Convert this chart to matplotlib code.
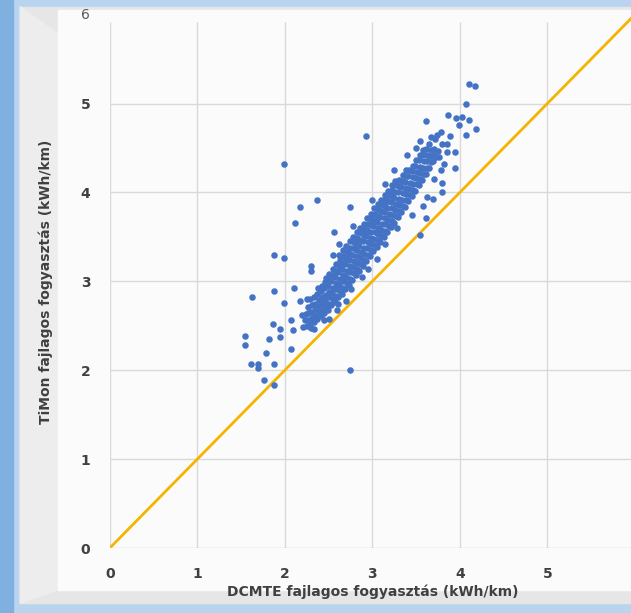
import matplotlib
matplotlib.use('Agg')
import matplotlib.pyplot as plt
from matplotlib.patches import Rectangle, Polygon

plt.rcParams['font.weight'] = 'bold'

# dense core of the cloud
core_x = [
 2.21, 2.23, 2.24,
 2.25, 2.27, 2.26, 2.27,
 2.29, 2.31, 2.30, 2.31, 2.29,
 2.33, 2.35, 2.34, 2.35, 2.33,
 2.37, 2.39, 2.38, 2.39, 2.37, 2.38,
 2.41, 2.43, 2.42, 2.43, 2.41, 2.42,
 2.45, 2.47, 2.46, 2.47, 2.45, 2.46, 2.47,
 2.49, 2.51, 2.50, 2.51, 2.49, 2.50, 2.51,
 2.53, 2.55, 2.54, 2.55, 2.53, 2.54, 2.55,
 2.57, 2.59, 2.58, 2.59, 2.57, 2.58, 2.59,
 2.61, 2.63, 2.62, 2.63, 2.61, 2.62, 2.63, 2.62,
 2.65, 2.67, 2.66, 2.67, 2.65, 2.66, 2.67, 2.66,
 2.69, 2.71, 2.70, 2.71, 2.69, 2.70, 2.71, 2.70,
 2.73, 2.75, 2.74, 2.75, 2.73, 2.74, 2.75, 2.74,
 2.77, 2.79, 2.78, 2.79, 2.77, 2.78, 2.79, 2.78,
 2.81, 2.83, 2.82, 2.83, 2.81, 2.82, 2.83, 2.82,
 2.85, 2.87, 2.86, 2.87, 2.85, 2.86, 2.87, 2.86,
 2.89, 2.91, 2.90, 2.91, 2.89, 2.90, 2.91, 2.90,
 2.93, 2.95, 2.94, 2.95, 2.93, 2.94, 2.95, 2.94,
 2.97, 2.99, 2.98, 2.99, 2.97, 2.98, 2.99, 2.98,
 3.01, 3.03, 3.02, 3.03, 3.01, 3.02, 3.03, 3.02,
 3.05, 3.07, 3.06, 3.07, 3.05, 3.06, 3.07, 3.06,
 3.09, 3.11, 3.10, 3.11, 3.09, 3.10, 3.11, 3.10,
 3.13, 3.15, 3.14, 3.15, 3.13, 3.14, 3.15, 3.14,
 3.17, 3.19, 3.18, 3.19, 3.17, 3.18, 3.19, 3.18,
 3.21, 3.23, 3.22, 3.23, 3.21, 3.22, 3.23, 3.22,
 3.25, 3.27, 3.26, 3.27, 3.25, 3.26, 3.27, 3.26,
 3.29, 3.31, 3.30, 3.31, 3.29, 3.30, 3.31,
 3.33, 3.35, 3.34, 3.35, 3.33, 3.34, 3.35,
 3.37, 3.39, 3.38, 3.39, 3.37, 3.38, 3.39,
 3.41, 3.43, 3.42, 3.43, 3.41, 3.42,
 3.45, 3.47, 3.46, 3.47, 3.45, 3.46,
 3.49, 3.51, 3.50, 3.51, 3.49, 3.50,
 3.53, 3.55, 3.54, 3.55, 3.53, 3.54,
 3.57, 3.59, 3.58, 3.59, 3.57, 3.58,
 3.61, 3.63, 3.62, 3.63, 3.61,
 3.65, 3.67, 3.66, 3.67, 3.65,
 3.69, 3.71, 3.70,
 3.73, 3.75,
]
core_y = [
 2.49, 2.56, 2.63,
 2.50, 2.57, 2.64, 2.71,
 2.52, 2.59, 2.66, 2.73, 2.80,
 2.54, 2.61, 2.68, 2.75, 2.82,
 2.58, 2.65, 2.72, 2.79, 2.86, 2.92,
 2.61, 2.68, 2.75, 2.82, 2.89, 2.95,
 2.64, 2.71, 2.78, 2.85, 2.92, 2.99, 3.04,
 2.68, 2.75, 2.82, 2.88, 2.95, 3.02, 3.08,
 2.73, 2.80, 2.87, 2.93, 3.00, 3.07, 3.14,
 2.77, 2.84, 2.91, 2.98, 3.05, 3.12, 3.19,
 2.82, 2.89, 2.96, 3.03, 3.10, 3.17, 3.24, 3.30,
 2.86, 2.93, 3.00, 3.07, 3.14, 3.21, 3.28, 3.35,
 2.91, 2.98, 3.05, 3.12, 3.19, 3.26, 3.33, 3.40,
 2.96, 3.03, 3.10, 3.17, 3.24, 3.31, 3.38, 3.45,
 3.02, 3.09, 3.16, 3.23, 3.30, 3.37, 3.44, 3.50,
 3.07, 3.14, 3.21, 3.28, 3.35, 3.42, 3.49, 3.55,
 3.12, 3.19, 3.26, 3.33, 3.40, 3.47, 3.54, 3.60,
 3.17, 3.24, 3.31, 3.38, 3.45, 3.52, 3.59, 3.65,
 3.23, 3.30, 3.37, 3.44, 3.51, 3.58, 3.65, 3.71,
 3.28, 3.35, 3.42, 3.49, 3.56, 3.63, 3.70, 3.76,
 3.34, 3.41, 3.48, 3.55, 3.62, 3.69, 3.76, 3.82,
 3.39, 3.46, 3.53, 3.60, 3.67, 3.74, 3.81, 3.87,
 3.44, 3.51, 3.58, 3.65, 3.72, 3.79, 3.86, 3.92,
 3.50, 3.57, 3.64, 3.71, 3.78, 3.85, 3.92, 3.97,
 3.55, 3.62, 3.69, 3.76, 3.83, 3.90, 3.97, 4.02,
 3.61, 3.68, 3.75, 3.82, 3.89, 3.96, 4.03, 4.08,
 3.66, 3.73, 3.80, 3.87, 3.94, 4.01, 4.08, 4.13,
 3.72, 3.79, 3.86, 3.93, 4.00, 4.07, 4.14,
 3.78, 3.85, 3.92, 3.99, 4.06, 4.13, 4.20,
 3.84, 3.91, 3.98, 4.05, 4.12, 4.19, 4.25,
 3.90, 3.97, 4.04, 4.11, 4.18, 4.25,
 3.96, 4.03, 4.10, 4.17, 4.24, 4.30,
 4.02, 4.09, 4.16, 4.23, 4.30, 4.36,
 4.08, 4.15, 4.22, 4.29, 4.36, 4.42,
 4.14, 4.21, 4.28, 4.35, 4.42, 4.48,
 4.21, 4.28, 4.35, 4.42, 4.49,
 4.27, 4.34, 4.41, 4.48, 4.55,
 4.35, 4.42, 4.49,
 4.40, 4.47,
]

# scattered points around the core
edge_x = [1.99, 2.93, 2.17, 2.37, 2.12, 2.56, 2.75, 1.88, 1.99, 1.63,
          1.88, 1.99, 2.11, 1.55, 1.55, 1.86, 1.95, 1.82, 1.94, 2.07,
          1.78, 1.61, 1.69, 1.69, 1.88, 1.76, 1.88, 2.75, 2.07, 2.09,
          2.17, 2.30, 2.30, 2.30, 3.55, 3.61, 3.69, 3.80, 3.94, 3.61,
          3.86, 4.07, 4.11, 4.17, 4.18, 4.07, 3.96, 4.03, 4.11, 3.99,
          3.94, 3.80, 3.89, 3.74, 3.67, 2.95, 2.76, 2.61, 2.33, 3.80,
          3.45, 3.62, 3.70, 3.78, 3.82, 3.76, 3.85, 3.58, 3.28, 3.15,
          3.05, 2.88, 2.70, 2.60, 2.50, 2.45, 2.55, 2.62, 2.78, 3.00,
          3.15, 3.25, 3.40, 3.50, 3.55, 3.85, 3.72, 3.78, 2.20, 2.25]
edge_y = [4.32, 4.63, 3.84, 3.91, 3.66, 3.56, 3.84, 3.30, 3.26, 2.82,
          2.89, 2.76, 2.93, 2.39, 2.28, 2.52, 2.46, 2.35, 2.37, 2.24,
          2.19, 2.07, 2.07, 2.02, 2.07, 1.89, 1.83, 2.00, 2.56, 2.45,
          2.78, 2.48, 3.17, 3.12, 3.52, 3.71, 3.93, 4.00, 4.28, 4.80,
          4.87, 5.00, 5.22, 5.20, 4.71, 4.65, 4.84, 4.85, 4.82, 4.76,
          4.45, 4.54, 4.63, 4.65, 4.62, 3.14, 2.91, 2.74, 2.46, 4.11,
          3.75, 3.95, 4.15, 4.25, 4.32, 4.40, 4.45, 3.85, 3.60, 3.42,
          3.25, 3.05, 2.78, 2.68, 2.58, 2.56, 3.30, 3.42, 3.62, 3.92,
          4.10, 4.25, 4.42, 4.50, 4.58, 4.55, 4.60, 4.68, 2.62, 2.80]

line_x = [0, 6]
line_y = [0, 6]

xticks = [0, 1, 2, 3, 4, 5]
yticks = [0, 1, 2, 3, 4, 5]
ytop = 6

fig = plt.figure(figsize=(6.31, 6.13), dpi=100)
fig.patch.set_facecolor('#b9d4ee')

# frame around the chart (behind the axes)
fig.patches.append(Rectangle((0.0, 0.0), 0.02, 1.0, transform=fig.transFigure,
                             color='#7fb0e0', zorder=-5))
fig.patches.append(Rectangle((0.032, 0.016), 0.968, 0.973, transform=fig.transFigure,
                             color='#e6e6e6', zorder=-4))
fig.patches.append(Polygon([(0.032, 0.989), (0.092, 0.945), (0.092, 0.038), (0.032, 0.016)],
                           closed=True, transform=fig.transFigure, color='#ededed', zorder=-3))
fig.patches.append(Rectangle((0.092, 0.038), 0.908, 0.945, transform=fig.transFigure,
                             color='#fbfbfb', zorder=-2))

ax = fig.add_axes([0.174, 0.106, 0.832, 0.870])
ax.set_facecolor('none')

# grid drawn by hand: no line along the top at 6
for v in xticks:
    ax.vlines(v, 0, 5.92, color='#d9d9d9', lw=1, zorder=0)
for h in yticks[1:]:
    ax.axhline(h, color='#d9d9d9', lw=1, zorder=0)
ax.axhline(0, color='#c8c8c8', lw=1, zorder=1)

ax.plot(line_x, line_y, color='#f4b400', lw=2, zorder=2)
ax.scatter(core_x, core_y, s=22, color='#4472c4', zorder=3, linewidths=0)
ax.scatter(edge_x, edge_y, s=22, color='#4472c4', zorder=3, linewidths=0)

ax.set_xlim(0, 6)
ax.set_ylim(0, ytop)
ax.set_xticks(xticks)
ax.set_yticks(yticks)
for s in ax.spines.values():
    s.set_visible(False)
ax.tick_params(length=0, labelsize=10, labelcolor='#404040', pad=14)

# the top value is printed lighter in the original
ax.text(-0.037, ytop, str(ytop), transform=ax.get_yaxis_transform(), ha='right',
        va='center', fontsize=10, fontweight='normal', color='#595959', clip_on=False)

ax.set_xlabel('DCMTE fajlagos fogyasztás (kWh/km)', fontsize=10, fontweight='bold',
              color='#404040', labelpad=2)
ax.set_ylabel('TiMon fajlagos fogyasztás (kWh/km)', fontsize=10, fontweight='bold',
              color='#404040', labelpad=20)

plt.savefig('out.png', dpi=100, facecolor=fig.get_facecolor())
